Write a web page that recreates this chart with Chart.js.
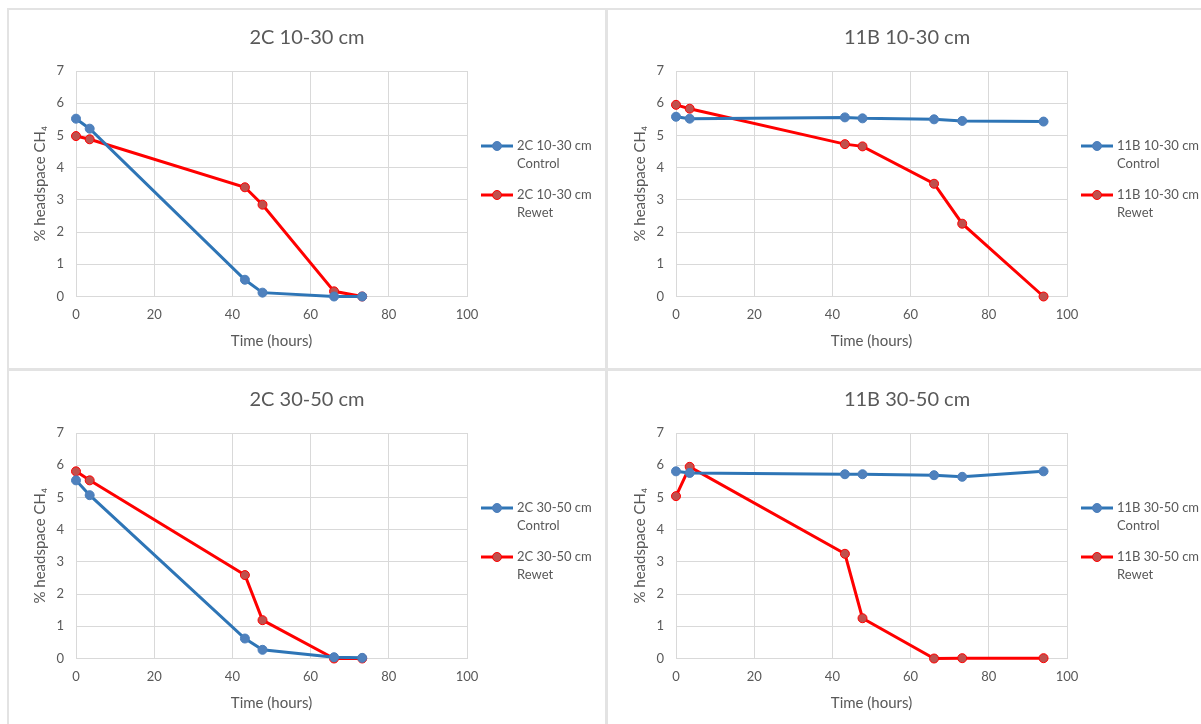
<!DOCTYPE html>
<html>
<head>
<meta charset="utf-8">
<script src="https://cdn.jsdelivr.net/npm/chart.js@4"></script>
<style>
  html, body { margin: 0; padding: 0; background: #fff; }
  body { width: 1201px; height: 724px; position: relative; overflow: hidden; }
  .rule { position: absolute; background: #e3e3e3; }
  .panel { position: absolute; width: 598px; height: 358px; }
</style>
</head>
<body>
<div class="rule" style="left:7px;top:8px;width:1194px;height:2px"></div>
<div class="rule" style="left:7px;top:8px;width:2px;height:716px"></div>
<div class="rule" style="left:605px;top:8px;width:3px;height:716px"></div>
<div class="rule" style="left:7px;top:368px;width:1194px;height:3px"></div>

<div class="panel" style="left:8px;top:10px"><canvas id="c2C1030"></canvas></div>
<div class="panel" style="left:608px;top:10px"><canvas id="c11B1030"></canvas></div>
<div class="panel" style="left:8px;top:372px"><canvas id="c2C3050"></canvas></div>
<div class="panel" style="left:608px;top:372px"><canvas id="c11B3050"></canvas></div>

<script>
// sampling times (hours)
const hours2C = [0, 3.5, 43.2, 47.7, 66, 73.2];
const hours11B = [0, 3.5, 43.2, 47.7, 66, 73.2, 94];

// % headspace CH4
const control2C1030 = [5.52, 5.21, 0.52, 0.12, 0.0, 0.0];
const rewet2C1030 = [4.98, 4.88, 3.39, 2.85, 0.16, 0.0];
const control11B1030 = [5.58, 5.52, 5.56, 5.53, 5.5, 5.45, 5.43];
const rewet11B1030 = [5.95, 5.83, 4.73, 4.66, 3.5, 2.26, 0.0];
const control2C3050 = [5.53, 5.07, 0.62, 0.27, 0.04, 0.02];
const rewet2C3050 = [5.81, 5.53, 2.59, 1.19, 0.0, 0.0];
const control11B3050 = [5.81, 5.76, 5.72, 5.72, 5.69, 5.64, 5.81];
const rewet11B3050 = [5.04, 5.95, 3.25, 1.25, 0.0, 0.01, 0.01];

const treatments = ['Control', 'Rewet'];
const xTicks = [0, 20, 40, 60, 80, 100];
const yTicks = [0, 1, 2, 3, 4, 5, 6, 7];

const textColor = '#595959';
const gridColor = '#d9d9d9';
const fontFamily = 'Lato, "Open Sans", sans-serif';

Chart.defaults.font.family = fontFamily;
Chart.defaults.color = textColor;

// legend drawn to the right of the plot, two-line labels like Excel
const sideLegend = {
    id: 'sideLegend',
    afterDraw(chart, args, opts) {
        const ctx = chart.ctx;
        const x0 = chart.chartArea.right + 14;
        ctx.save();
        ctx.font = '13px ' + fontFamily;
        ctx.textBaseline = 'middle';
        chart.data.datasets.forEach((ds, i) => {
            const y = opts.top + i * opts.gap;
            ctx.strokeStyle = ds.borderColor;
            ctx.lineWidth = 3;
            ctx.beginPath();
            ctx.moveTo(x0, y);
            ctx.lineTo(x0 + 32, y);
            ctx.stroke();
            ctx.beginPath();
            ctx.arc(x0 + 16, y, 4.5, 0, Math.PI * 2);
            ctx.fillStyle = ds.pointBackgroundColor;
            ctx.fill();
            ctx.lineWidth = 1;
            ctx.strokeStyle = ds.pointBorderColor;
            ctx.stroke();
            ctx.fillStyle = textColor;
            [opts.name, treatments[i]].forEach((t, j) => ctx.fillText(t, x0 + 36, y + j * 18));
        });
        ctx.restore();
    }
};

const toPoints = (xs, ys) => ys.map((v, i) => ({ x: xs[i], y: v }));

function makePanel(id, name, hours, control, rewet) {
    const ctx = document.getElementById(id);
    new Chart(ctx, {
        type: 'line',
        data: {
            datasets: [{
                label: name + ' Control',
                data: toPoints(hours, control),
                borderColor: '#2e75b6',
                pointBackgroundColor: '#4f81bd',
                pointBorderColor: '#4a7ebb',
                borderWidth: 3,
                pointRadius: 4.5,
                pointBorderWidth: 1,
                tension: 0,
                clip: false
            }, {
                label: name + ' Rewet',
                data: toPoints(hours, rewet),
                borderColor: '#ff0000',
                pointBackgroundColor: '#c0504d',
                pointBorderColor: '#ff0000',
                borderWidth: 3,
                pointRadius: 4.5,
                pointBorderWidth: 1,
                tension: 0,
                clip: false
            }]
        },
        options: {
            responsive: false,
            animation: false,
            layout: { padding: { left: 0, right: 0, top: 0, bottom: 11.5 } },
            plugins: {
                legend: { display: false },
                tooltip: { enabled: false },
                title: {
                    display: true,
                    text: name,
                    color: textColor,
                    font: { size: 20, weight: 'normal' },
                    padding: { top: 15.7, bottom: 21.3 }
                },
                sideLegend: { name: name, top: 136, gap: 49 }
            },
            scales: {
                x: {
                    type: 'linear',
                    min: 0,
                    max: 100,
                    afterBuildTicks: (scale) => { scale.ticks = xTicks.map(v => ({ value: v })); },
                    afterFit: (scale) => { scale.height = 60; },
                    grid: { color: gridColor, drawTicks: false },
                    border: { color: gridColor },
                    ticks: { padding: 11, font: { size: 13 }, color: textColor },
                    title: {
                        display: true,
                        text: 'Time (hours)',
                        font: { size: 15 },
                        color: textColor,
                        padding: { top: 0, bottom: 6.5 }
                    }
                },
                y: {
                    min: 0,
                    max: 7,
                    afterBuildTicks: (scale) => { scale.ticks = yTicks.map(v => ({ value: v })); },
                    afterFit: (scale) => { scale.width = 68; },
                    grid: { color: gridColor, drawTicks: false },
                    border: { color: gridColor },
                    ticks: { padding: 12, font: { size: 13 }, color: textColor },
                    title: {
                        display: true,
                        text: '% headspace CH₄',
                        font: { size: 15 },
                        color: textColor,
                        padding: { top: 23, bottom: 0 }
                    }
                },
                // empty right-hand axis that reserves room for the legend
                legendSpace: {
                    type: 'linear',
                    position: 'right',
                    min: 0,
                    max: 7,
                    afterFit: (scale) => { scale.width = 139; },
                    grid: { display: false, drawOnChartArea: false },
                    border: { display: false },
                    ticks: { display: false }
                }
            }
        },
        plugins: [sideLegend]
    });
}

document.querySelectorAll('canvas').forEach(c => { c.width = 598; c.height = 358; });

makePanel('c2C1030', '2C 10-30 cm', hours2C, control2C1030, rewet2C1030);
makePanel('c11B1030', '11B 10-30 cm', hours11B, control11B1030, rewet11B1030);
makePanel('c2C3050', '2C 30-50 cm', hours2C, control2C3050, rewet2C3050);
makePanel('c11B3050', '11B 30-50 cm', hours11B, control11B3050, rewet11B3050);
</script>
</body>
</html>
